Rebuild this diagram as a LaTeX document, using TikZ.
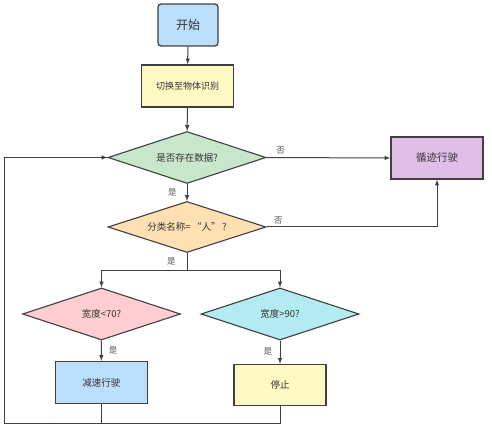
\documentclass[tikz,border=0pt]{standalone}
\usepackage{fontspec}
\setmainfont{Noto Sans CJK SC}
\usetikzlibrary{shapes.geometric,arrows,positioning}

\definecolor{linegray}{HTML}{404040}
\definecolor{textgray}{HTML}{333333}
\definecolor{lblgray}{HTML}{555555}
\definecolor{startblue}{HTML}{BBDEFB}
\definecolor{boxyellow}{HTML}{FFF9C4}
\definecolor{dgreen}{HTML}{C8E6C9}
\definecolor{dorange}{HTML}{FFE0B2}
\definecolor{dpink}{HTML}{FFCDD2}
\definecolor{dcyan}{HTML}{B2EBF2}
\definecolor{boxpurple}{HTML}{E1BEE7}

\begin{document}
\begin{tikzpicture}[x=1pt,y=-1pt,
decision/.style = {diamond, aspect=3, draw=linegray, line width=1.1pt, minimum width=158pt,
	minimum height=52pt, inner sep=0pt, text=textgray, font=\fontsize{9.5}{11}\selectfont},
block/.style = {rectangle, draw=linegray, line width=1.3pt, minimum width=92pt,
	minimum height=42pt, text=textgray, font=\fontsize{9.5}{11}\selectfont},
start/.style = {rectangle, rounded corners=3pt, draw=linegray, line width=1.3pt, fill=startblue,
	minimum width=60pt, minimum height=42pt, text=textgray, font=\fontsize{12}{14}\selectfont},
lbl/.style = {text=lblgray, font=\fontsize{8.5}{10}\selectfont, inner sep=2pt},
line/.style ={draw=linegray, line width=1pt, -latex}]

\useasboundingbox (0,0) rectangle (492,435);

\node [start] (start) at (188,25) {开始};
\node [block, fill=boxyellow, font=\fontsize{9}{11}\selectfont] (switch) at (187.5,86) {切换至物体识别};
\node [decision, fill=dgreen] (data) at (187,157.5) {是否存在数据?};
\node [block, fill=boxpurple, font=\fontsize{10.5}{12}\selectfont] (follow) at (437,158) {循迹行驶};
\node [decision, fill=dorange, minimum height=51pt] (person) at (187,227) {分类名称=\,“人”\,?};
\node [decision, fill=dpink] (narrow) at (101.5,314) {宽度<70?};
\node [decision, fill=dcyan] (wide) at (280,314) {宽度>90?};
\node [block, fill=startblue] (slow) at (101.3,382.5) {减速行驶};
\node [block, fill=boxyellow, minimum height=41pt] (stop) at (280,385) {停止};

\coordinate (split) at (187,270.5);
\coordinate (corner) at (4,423);

\begin{scope}[every path/.style=line]
\path (start) -- (switch);
\path (switch) -- (data);
\path (data.east) -- node [lbl, pos=0.06, above right, yshift=1pt] {否} (follow.west);
\path (data.south) -- node [lbl, left=8pt] {是} (person.north);
\path (person.east) -| node [lbl, pos=0.015, above right] {否} (follow.south);
\path[-] (person.south) -- node [lbl, left=9pt] {是} (split);
\path (split) -| (narrow.north);
\path (split) -| (wide.north);
\path (narrow.south) -- node [lbl, right=5pt] {是} (slow.north);
\path (wide.south) -- node [lbl, pos=0.45, left=5.5pt] {是} (stop.north);
\path[-] (slow.south) -- (slow.south |- corner);
\path (stop.south) |- (corner) |- (data.west);
\end{scope}

\end{tikzpicture}
\end{document}
